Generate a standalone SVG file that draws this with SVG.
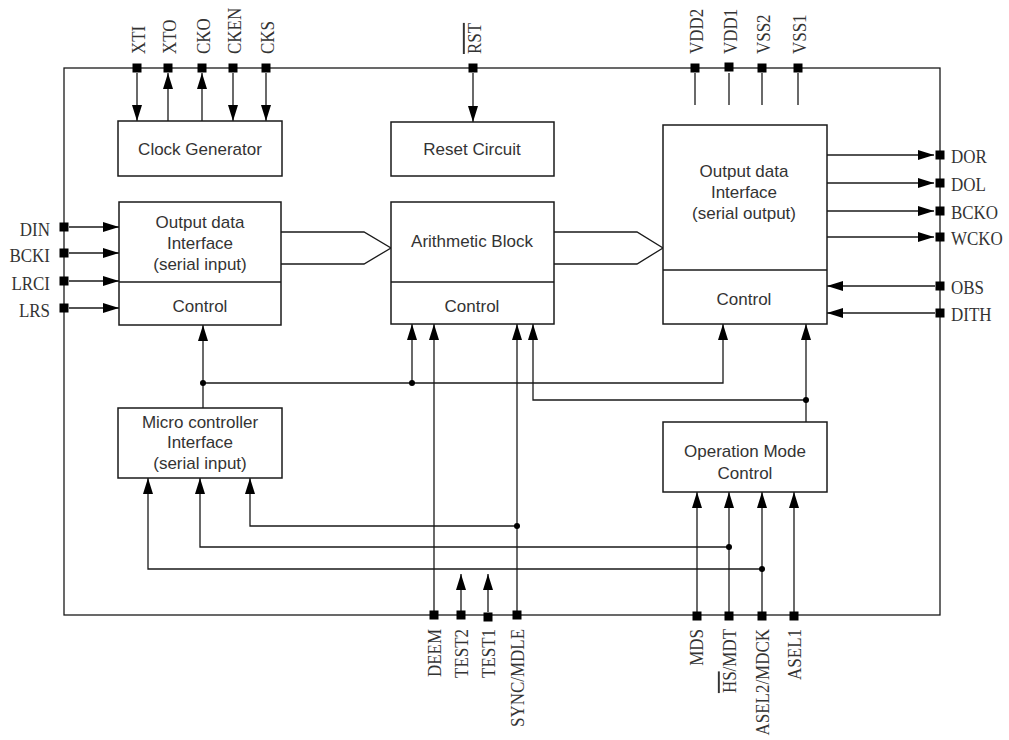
<svg xmlns="http://www.w3.org/2000/svg" width="1009" height="740" viewBox="0 0 1009 740">
<style>
.box{fill:#fff;stroke:#1a1a1a;stroke-width:1.5}
.ln{fill:none;stroke:#1a1a1a;stroke-width:1.3}
.ar{fill:none;stroke:#1a1a1a;stroke-width:1.3;marker-end:url(#ah)}
.bt{font-family:"Liberation Sans",Arial,sans-serif;font-size:17px;fill:#333;text-anchor:middle}
.pt{font-family:"Liberation Serif","Times New Roman",serif;font-size:19.5px;fill:#333}
.pin{fill:#000}
.dot{fill:#000}
</style>
<defs>
<marker id="ah" markerUnits="userSpaceOnUse" markerWidth="16" markerHeight="10" refX="16" refY="5" orient="auto">
<path d="M0,0 L16,5 L0,10 z" fill="#000"/>
</marker>
</defs>
<rect x="0" y="0" width="1009" height="740" fill="#fff"/>
<rect id="frame" x="64" y="68" width="876" height="547" class="ln" stroke-width="1.5"/>

<g id="connectors">
<line x1="137" y1="73" x2="137" y2="121" class="ar"/>
<line x1="168" y1="121" x2="168" y2="73" class="ar"/>
<line x1="202" y1="121" x2="202" y2="73" class="ar"/>
<line x1="233" y1="73" x2="233" y2="121" class="ar"/>
<line x1="266" y1="73" x2="266" y2="121" class="ar"/>
<line x1="473" y1="73" x2="473" y2="122" class="ar"/>
<line x1="695" y1="73" x2="695" y2="105" class="ln"/>
<line x1="729" y1="73" x2="729" y2="105" class="ln"/>
<line x1="762" y1="73" x2="762" y2="105" class="ln"/>
<line x1="798" y1="73" x2="798" y2="105" class="ln"/>
<line x1="69" y1="227" x2="119" y2="227" class="ar"/>
<line x1="69" y1="253" x2="119" y2="253" class="ar"/>
<line x1="69" y1="281" x2="119" y2="281" class="ar"/>
<line x1="69" y1="308" x2="119" y2="308" class="ar"/>
<line x1="827" y1="155" x2="934" y2="155" class="ar"/>
<line x1="827" y1="183" x2="934" y2="183" class="ar"/>
<line x1="827" y1="211" x2="934" y2="211" class="ar"/>
<line x1="827" y1="237" x2="934" y2="237" class="ar"/>
<line x1="935" y1="286" x2="827" y2="286" class="ar"/>
<line x1="935" y1="313" x2="827" y2="313" class="ar"/>
<polyline points="281,232 364,232 391,248 364,264 281,264" class="ln"/>
<polyline points="554,232 637,232 663,248 637,264 554,264" class="ln"/>
<line x1="203" y1="408" x2="203" y2="325" class="ar"/>
<polyline points="203,383 723,383 723,324" class="ar"/>
<line x1="412" y1="383" x2="412" y2="324" class="ar"/>
<line x1="434" y1="615" x2="434" y2="324" class="ar"/>
<line x1="517" y1="615" x2="517" y2="324" class="ar"/>
<polyline points="517,526 250,526 250,478" class="ar"/>
<line x1="806" y1="422" x2="806" y2="324" class="ar"/>
<polyline points="806,400 533,400 533,324" class="ar"/>
<line x1="697" y1="615" x2="697" y2="492" class="ar"/>
<line x1="729" y1="615" x2="729" y2="492" class="ar"/>
<line x1="762" y1="615" x2="762" y2="492" class="ar"/>
<line x1="794" y1="615" x2="794" y2="492" class="ar"/>
<polyline points="729,547 200,547 200,478" class="ar"/>
<polyline points="762,569 148,569 148,478" class="ar"/>
<line x1="461" y1="611" x2="461" y2="574" class="ar"/>
<line x1="488" y1="612" x2="488" y2="574" class="ar"/>
<circle cx="203" cy="383" r="3" class="dot"/>
<circle cx="412" cy="383" r="3" class="dot"/>
<circle cx="517" cy="526" r="3" class="dot"/>
<circle cx="806" cy="400" r="3" class="dot"/>
<circle cx="729" cy="547" r="3" class="dot"/>
<circle cx="762" cy="569" r="3" class="dot"/>
</g>

<g id="clock-generator">
<rect x="118" y="121" width="164" height="55" class="box"/>
<text x="200" y="155" class="bt">Clock Generator</text>
</g>
<g id="reset-circuit">
<rect x="391" y="122" width="163" height="54" class="box"/>
<text x="472" y="155" class="bt">Reset Circuit</text>
</g>
<g id="input-interface">
<rect x="119" y="202" width="162" height="123" class="box"/>
<line x1="119" y1="282" x2="281" y2="282" class="ln"/>
<text x="200" y="228" class="bt">Output data</text>
<text x="200" y="249" class="bt">Interface</text>
<text x="200" y="270" class="bt">(serial input)</text>
<text x="200" y="312" class="bt">Control</text>
</g>
<g id="arithmetic-block">
<rect x="391" y="202" width="163" height="122" class="box"/>
<line x1="391" y1="282" x2="554" y2="282" class="ln"/>
<text x="472" y="247" class="bt">Arithmetic Block</text>
<text x="472" y="312" class="bt">Control</text>
</g>
<g id="output-interface">
<rect x="663" y="125" width="164" height="199" class="box"/>
<line x1="663" y1="270" x2="827" y2="270" class="ln"/>
<text x="744" y="177" class="bt">Output data</text>
<text x="744" y="198" class="bt">Interface</text>
<text x="744" y="219" class="bt">(serial output)</text>
<text x="744" y="305" class="bt">Control</text>
</g>
<g id="micro-controller">
<rect x="118" y="408" width="164" height="70" class="box"/>
<text x="200" y="428" class="bt">Micro controller</text>
<text x="200" y="448" class="bt">Interface</text>
<text x="200" y="469" class="bt">(serial input)</text>
</g>
<g id="operation-mode">
<rect x="663" y="422" width="164" height="70" class="box"/>
<text x="745" y="457" class="bt">Operation Mode</text>
<text x="745" y="479" class="bt">Control</text>
</g>

<g id="pins-top">
<rect x="132.5" y="63.5" width="9" height="9" class="pin"/>
<rect x="163.5" y="63.5" width="9" height="9" class="pin"/>
<rect x="197.5" y="63.5" width="9" height="9" class="pin"/>
<rect x="228.5" y="63.5" width="9" height="9" class="pin"/>
<rect x="261.5" y="63.5" width="9" height="9" class="pin"/>
<rect x="468.5" y="63.5" width="9" height="9" class="pin"/>
<rect x="690.5" y="63.5" width="9" height="9" class="pin"/>
<rect x="724.5" y="62.5" width="9" height="9" class="pin"/>
<rect x="757.5" y="63.5" width="9" height="9" class="pin"/>
<rect x="793.5" y="63.5" width="9" height="9" class="pin"/>
<text class="pt" transform="translate(145,54) rotate(-90) scale(0.87,1)">XTI</text>
<text class="pt" transform="translate(176,54) rotate(-90) scale(0.87,1)">XTO</text>
<text class="pt" transform="translate(210,54) rotate(-90) scale(0.87,1)">CKO</text>
<text class="pt" transform="translate(241,54) rotate(-90) scale(0.87,1)">CKEN</text>
<text class="pt" transform="translate(274,54) rotate(-90) scale(0.87,1)">CKS</text>
<text class="pt" transform="translate(481,54) rotate(-90) scale(0.87,1)"><tspan text-decoration="overline">RST</tspan></text>
<text class="pt" transform="translate(703,54) rotate(-90) scale(0.87,1)">VDD2</text>
<text class="pt" transform="translate(737,54) rotate(-90) scale(0.87,1)">VDD1</text>
<text class="pt" transform="translate(770,54) rotate(-90) scale(0.87,1)">VSS2</text>
<text class="pt" transform="translate(806,54) rotate(-90) scale(0.87,1)">VSS1</text>
</g>
<g id="pins-left">
<rect x="59.5" y="222.5" width="9" height="9" class="pin"/>
<rect x="59.5" y="248.5" width="9" height="9" class="pin"/>
<rect x="59.5" y="276.5" width="9" height="9" class="pin"/>
<rect x="59.5" y="303.5" width="9" height="9" class="pin"/>
<text class="pt" text-anchor="end" transform="translate(50,236) scale(0.87,1)">DIN</text>
<text class="pt" text-anchor="end" transform="translate(50,262) scale(0.87,1)">BCKI</text>
<text class="pt" text-anchor="end" transform="translate(50,290) scale(0.87,1)">LRCI</text>
<text class="pt" text-anchor="end" transform="translate(50,317) scale(0.87,1)">LRS</text>
</g>
<g id="pins-right">
<rect x="935.5" y="150.5" width="9" height="9" class="pin"/>
<rect x="935.5" y="178.5" width="9" height="9" class="pin"/>
<rect x="935.5" y="206.5" width="9" height="9" class="pin"/>
<rect x="935.5" y="232.5" width="9" height="9" class="pin"/>
<rect x="935.5" y="281.5" width="9" height="9" class="pin"/>
<rect x="935.5" y="308.5" width="9" height="9" class="pin"/>
<text class="pt" transform="translate(951,163) scale(0.87,1)">DOR</text>
<text class="pt" transform="translate(951,191) scale(0.87,1)">DOL</text>
<text class="pt" transform="translate(951,219) scale(0.87,1)">BCKO</text>
<text class="pt" transform="translate(951,245) scale(0.87,1)">WCKO</text>
<text class="pt" transform="translate(951,294) scale(0.87,1)">OBS</text>
<text class="pt" transform="translate(951,321) scale(0.87,1)">DITH</text>
</g>
<g id="pins-bottom">
<rect x="429.5" y="610.5" width="9" height="9" class="pin"/>
<rect x="456.5" y="610.5" width="9" height="9" class="pin"/>
<rect x="483.5" y="612.5" width="9" height="9" class="pin"/>
<rect x="512.5" y="610.5" width="9" height="9" class="pin"/>
<rect x="692.5" y="611.5" width="9" height="9" class="pin"/>
<rect x="724.5" y="611.5" width="9" height="9" class="pin"/>
<rect x="757.5" y="611.5" width="9" height="9" class="pin"/>
<rect x="789.5" y="611.5" width="9" height="9" class="pin"/>
<text class="pt" text-anchor="end" transform="translate(441,629) rotate(-90) scale(0.87,1)">DEEM</text>
<text class="pt" text-anchor="end" transform="translate(468,629) rotate(-90) scale(0.87,1)">TEST2</text>
<text class="pt" text-anchor="end" transform="translate(495,629) rotate(-90) scale(0.87,1)">TEST1</text>
<text class="pt" text-anchor="end" transform="translate(524,629) rotate(-90) scale(0.87,1)">SYNC/MDLE</text>
<text class="pt" text-anchor="end" transform="translate(703,629) rotate(-90) scale(0.87,1)">MDS</text>
<text class="pt" text-anchor="end" transform="translate(736,629) rotate(-90) scale(0.87,1)"><tspan text-decoration="overline">HS</tspan>/MDT</text>
<text class="pt" text-anchor="end" transform="translate(769,629) rotate(-90) scale(0.87,1)">ASEL2/MDCK</text>
<text class="pt" text-anchor="end" transform="translate(801,629) rotate(-90) scale(0.87,1)">ASEL1</text>
</g>
</svg>
